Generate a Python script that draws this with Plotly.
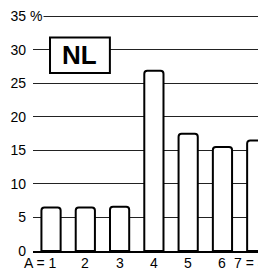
import plotly.graph_objects as go

categories = ["A = 1", "2", "3", "4", "5", "6", "7 = 8"]
values = [6.5, 6.5, 6.6, 26.9, 17.5, 15.5, 16.5]
y_ticks = [0, 5, 10, 15, 20, 25, 30, 35]
y_tick_labels = ["0", "5", "10", "15", "20", "25", "30", "35"]
country = "NL"

xs = list(range(len(categories)))

fig = go.Figure()
fig.add_trace(go.Bar(
    x=xs, y=values, width=0.56,
    marker=dict(color="white", line=dict(color="black", width=2), cornerradius=3),
    hoverinfo="skip",
))

font = dict(family="Liberation Sans, Arial, sans-serif", size=14, color="black")

annotations = []
for i, lab in enumerate(categories):
    if i == 0:
        annotations.append(dict(x=xs[i], y=0, xref="x", yref="paper", text=lab,
                                showarrow=False, xanchor="right", yanchor="middle",
                                xshift=8, yshift=-12, font=font))
    elif i == len(categories) - 1:
        annotations.append(dict(x=xs[i], y=0, xref="x", yref="paper", text=lab,
                                showarrow=False, xanchor="left", yanchor="middle",
                                xshift=-25, yshift=-12, font=font))
    else:
        annotations.append(dict(x=xs[i], y=0, xref="x", yref="paper", text=lab,
                                showarrow=False, xanchor="center", yanchor="middle",
                                yshift=-12, font=font))

# percent sign after the top tick label
annotations.append(dict(x=0, y=y_ticks[-1], xref="paper", yref="y", text="%",
                        showarrow=False, xanchor="left", yanchor="middle",
                        xshift=-5, font=font, bgcolor="white", borderpad=1))

# country box label
annotations.append(dict(x=0.2017, y=0.8235, xref="paper", yref="paper", text="<b>%s</b>" % country,
                        showarrow=False, xanchor="center", yanchor="middle",
                        font=dict(family="Liberation Sans, Arial, sans-serif", size=26, color="black")))

fig.add_shape(type="rect", xref="paper", yref="paper",
              x0=0.073, x1=0.330, y0=0.748, y1=0.897,
              line=dict(color="black", width=2), fillcolor="white", layer="above")

fig.update_layout(
    width=258, height=266,
    margin=dict(l=25, r=0, t=5, b=23),
    paper_bgcolor="white", plot_bgcolor="white",
    showlegend=False,
    annotations=annotations,
    xaxis=dict(range=[-0.526, 6.27], showgrid=False, zeroline=False,
               showticklabels=False, ticks="", showline=True, linecolor="black", linewidth=2),
    yaxis=dict(range=[0, 35.5], tickvals=y_ticks, ticktext=y_tick_labels,
               showgrid=True, gridcolor="#222222", gridwidth=1, zeroline=False,
               ticks="", ticklabelstandoff=6, tickfont=font),
)

fig.write_html("out.html")
